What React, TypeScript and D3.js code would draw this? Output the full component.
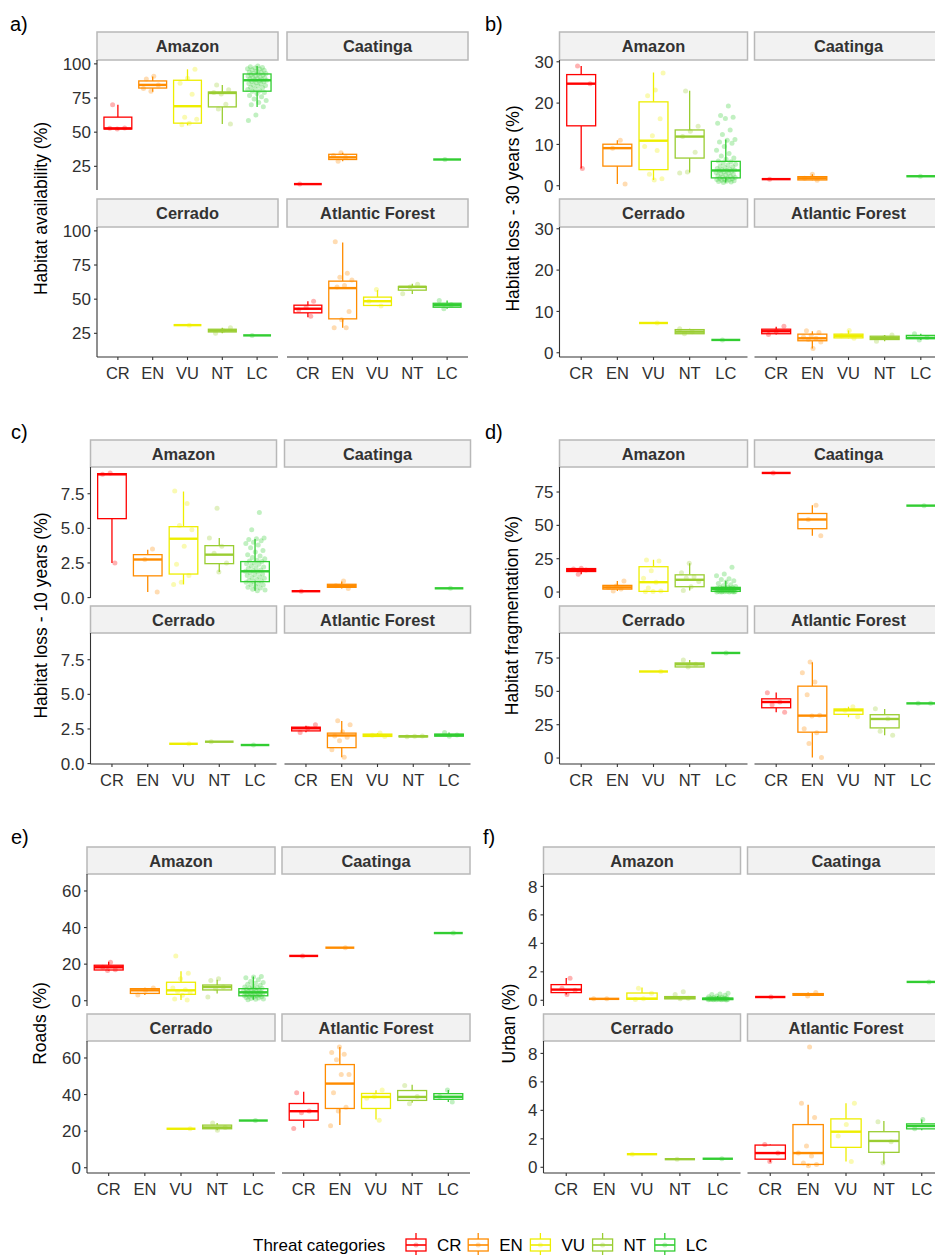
import React from 'react';
import * as d3 from 'd3';

// ---------- categories & palette ----------
const categories = ['CR', 'EN', 'VU', 'NT', 'LC'];
const catColors = ['#FF0000', '#FF8C00', '#EEEE00', '#9ACD32', '#32CD32'];
const biomes = ['Amazon', 'Caatinga', 'Cerrado', 'Atlantic Forest'];

type Stats = [number, number, number, number, number]; // lower whisker, q1, median, q3, upper whisker
type Group = { s: Stats; p: number[] } | null;
const grp = (s: Stats, p: number[]): Group => ({ s, p });
const one = (v: number): Group => ({ s: [v, v, v, v, v], p: [v] });

// ---------- a) Habitat availability (%) ----------
const availTicks = [25, 50, 75, 100];
const availTickLabels = ['25', '50', '75', '100'];
const availLcAmazon = [98.5, 97.8, 97.4, 96.9, 96.5, 96.2, 95.6, 95.3, 94.8, 94.1, 93.9, 93.2, 92.9, 92.6, 92.0, 91.8, 91.2, 91.0, 90.4, 90.1, 89.8, 89.2, 88.9, 88.6, 88.1, 88.0, 87.4, 87.1, 86.9, 86.2, 85.7, 85.5, 84.6, 84.1, 83.8, 82.9, 82.5, 81.6, 81.2, 80.4, 80.0, 79.1, 78.3, 76.8, 75.9, 74.2, 73.1, 71.8, 70.0, 68.6, 62.5, 58.6];
const availAmazon: Group[] = [
  grp([52, 52.3, 52.8, 61, 70], [70, 53, 52.3, 52.8]),
  grp([79.6, 82.3, 84.6, 87.5, 90.7], [91, 89, 84.6, 80, 82]),
  grp([55, 56.6, 69, 88, 96], [96, 89.5, 85.8, 77.7, 61, 59.5, 56.5, 55.5]),
  grp([56, 68.5, 78.7, 79.4, 84.5], [84.5, 81, 78, 79, 70.5, 67, 56]),
  grp([68.5, 80, 88, 92.6, 98.5], availLcAmazon),
];
const availCaatinga: Group[] = [one(12), grp([28.7, 30, 31.6, 33.8, 35], [35, 33, 31.6, 28.7]), null, null, one(30)];
const availCerrado: Group[] = [null, null, one(31), grp([25, 26, 27, 28, 29], [29, 27, 25]), one(23.5)];
const availAtlantic: Group[] = [
  grp([36.8, 40, 43, 45.6, 48.5], [48.5, 44, 42, 37.5]),
  grp([29, 35.6, 58.1, 63.2, 91.4], [92, 69, 66, 64, 60, 59, 41, 35, 29, 29]),
  grp([44.9, 45.4, 48.5, 51.5, 56.6], [57, 48.5, 45]),
  grp([53.7, 56.6, 59, 59.3, 61.3], [61, 59, 54]),
  grp([43, 44.1, 45.6, 47, 49], [49, 46, 43]),
];

// ---------- b) Habitat loss - 30 years (%) ----------
const loss30Ticks = [0, 10, 20, 30];
const loss30TickLabels = ['0', '10', '20', '30'];
const loss30LcAmazon = [19.3, 17.0, 16.6, 16.3, 15.1, 13.5, 12.4, 11.2, 11.0, 10.6, 10.3, 9.5, 8.6, 7.8, 7.2, 6.7, 6.4, 6.0, 5.8, 5.5, 5.2, 5.0, 4.8, 4.6, 4.4, 4.2, 4.0, 3.9, 3.8, 3.7, 3.6, 3.5, 3.3, 3.2, 3.0, 2.9, 2.7, 2.6, 2.4, 2.3, 2.1, 2.0, 1.9, 1.8, 1.7, 1.6, 1.5, 1.4, 1.3, 1.2, 1.1, 1.0, 0.9, 0.8];
const loss30Amazon: Group[] = [
  grp([4.2, 14.5, 24.7, 26.9, 29], [29, 24.7, 4.2]),
  grp([0.4, 4.75, 9.1, 10.05, 11], [11, 9.1, 0.4]),
  grp([1.4, 3.9, 10.9, 20.3, 27.4], [27.3, 23.2, 21.8, 16.2, 12.1, 9.5, 8.5, 2.8, 1.7, 1.4]),
  grp([3.2, 6.7, 11.9, 13.5, 23], [22.9, 14.4, 13.2, 11.9, 8.1, 3.3, 3.1]),
  grp([0.8, 1.9, 3.7, 5.9, 11.2], loss30LcAmazon),
];
const loss30Caatinga: Group[] = [one(1.6), grp([1.3, 1.4, 1.8, 2.2, 2.8], [2.8, 1.8, 1.3]), null, null, one(2.3)];
const loss30Cerrado: Group[] = [null, null, one(7.2), grp([4.6, 4.6, 5.1, 5.6, 5.8], [5.8, 5.1, 4.6]), one(3.1)];
const loss30Atlantic: Group[] = [
  grp([4.4, 4.6, 5.2, 5.7, 6.3], [6.4, 5.2, 4.4]),
  grp([1.0, 2.9, 3.5, 4.5, 5.2], [5.3, 4.9, 4.2, 3.8, 3.5, 3.2, 2.6, 1.0]),
  grp([3.5, 3.6, 4.1, 4.5, 5.4], [5.4, 4.1, 3.5]),
  grp([2.8, 3.2, 3.6, 4.0, 4.3], [4.3, 3.6, 2.8]),
  grp([3.1, 3.4, 3.6, 4.2, 4.6], [4.6, 3.7, 3.1]),
];

// ---------- c) Habitat loss - 10 years (%) ----------
const loss10Ticks = [0, 2.5, 5, 7.5];
const loss10TickLabels = ['0.0', '2.5', '5.0', '7.5'];
const loss10LcAmazon = [6.15, 4.9, 4.3, 4.25, 4.2, 4.1, 4.0, 3.9, 3.8, 3.6, 3.4, 3.3, 3.1, 3.0, 2.9, 2.8, 2.7, 2.65, 2.6, 2.5, 2.45, 2.4, 2.3, 2.2, 2.15, 2.1, 2.0, 1.95, 1.9, 1.85, 1.8, 1.7, 1.65, 1.6, 1.5, 1.45, 1.4, 1.3, 1.25, 1.2, 1.15, 1.1, 1.0, 0.95, 0.9, 0.8, 0.75, 0.7, 0.6, 0.55, 0.5];
const loss10Amazon: Group[] = [
  grp([2.5, 5.7, 8.9, 8.95, 9.0], [9.0, 8.9, 2.5]),
  grp([0.4, 1.57, 2.75, 3.1, 3.45], [3.5, 2.75, 0.4]),
  grp([0.95, 1.7, 4.25, 5.12, 7.66], [7.7, 6.8, 5.2, 4.9, 3.7, 2.4, 1.6, 1.1, 0.95]),
  grp([1.85, 2.45, 3.1, 3.75, 4.3], [6.45, 4.3, 3.7, 3.2, 2.5, 1.85]),
  grp([0.5, 1.15, 1.9, 2.6, 4.23], loss10LcAmazon),
];
const loss10Caatinga: Group[] = [one(0.46), grp([0.65, 0.74, 0.85, 0.96, 1.17], [1.2, 0.85, 0.65]), null, null, one(0.67)];
const loss10Cerrado: Group[] = [null, null, one(1.43), one(1.58), one(1.34)];
const loss10Atlantic: Group[] = [
  grp([2.26, 2.36, 2.55, 2.63, 2.74], [2.8, 2.55, 2.25]),
  grp([0.45, 1.15, 2.03, 2.2, 3.08], [3.1, 2.8, 2.3, 2.0, 1.9, 1.65, 1.0, 0.45]),
  grp([1.96, 1.96, 2.05, 2.13, 2.2], [2.2, 2.05, 1.95]),
  grp([1.93, 1.93, 1.97, 2.0, 2.0], [2.0, 1.97, 1.93]),
  grp([1.98, 1.98, 2.06, 2.13, 2.25], [2.25, 2.06, 1.98]),
];

// ---------- d) Habitat fragmentation (%) ----------
const fragTicks = [0, 25, 50, 75];
const fragTickLabels = ['0', '25', '50', '75'];
const fragLcAmazon = [18.5, 13.5, 12.2, 10.0, 9.4, 8.4, 7.5, 6.5, 5.5, 4.8, 4.2, 3.8, 3.5, 3.2, 3.0, 2.8, 2.6, 2.4, 2.2, 2.1, 2.0, 1.8, 1.6, 1.5, 1.3, 1.1, 1.0, 0.9, 0.8, 0.7, 0.6, 0.5, 0.4, 0.3, 0.3, 0.2, 0.1, 0.1, 0.0, 0.0];
const fragAmazon: Group[] = [
  grp([13.4, 15.4, 16.6, 17.6, 17.8], [17.8, 17.2, 16.5, 13.4]),
  grp([0.8, 2.2, 3.5, 5.0, 8.3], [8.3, 4.5, 3.5, 2.2, 0.8]),
  grp([0.3, 0.5, 7.4, 19, 24.2], [24, 23.2, 16, 10.3, 7.4, 3, 0.8, 0.5, 0.3]),
  grp([1.2, 4.0, 9.2, 12.9, 21.5], [21.5, 14.5, 11.5, 10.5, 8, 4, 1.2]),
  grp([0, 0.5, 2.2, 3.5, 8.4], fragLcAmazon),
];
const fragCaatinga: Group[] = [one(89.3), grp([42.3, 47.5, 54.4, 58.9, 65], [65, 54.4, 42.3]), null, null, one(64.8)];
const fragCerrado: Group[] = [null, null, one(64.9), grp([68.3, 68.3, 70.3, 71.3, 73.5], [73.5, 70.3, 68.3]), one(78.8)];
const fragAtlantic: Group[] = [
  grp([34.3, 37.7, 42, 44.4, 49.2], [49, 42, 40, 34.3]),
  grp([0.5, 19.4, 31.8, 53.9, 71.8], [72, 64, 57, 47.5, 32, 31.5, 22, 19, 11, 0.5]),
  grp([30.6, 32.8, 35.8, 36.8, 38.5], [38.5, 35.8, 31]),
  grp([17.1, 22.6, 29.3, 32.5, 36.8], [37, 29.5, 20, 17]),
  grp([41, 41, 41, 41, 41], [41, 41]),
];

// ---------- e) Roads (%) ----------
const roadTicks = [0, 20, 40, 60];
const roadTickLabels = ['0', '20', '40', '60'];
const roadLcAmazon = [13.3, 13.0, 12.5, 11.5, 10.5, 10.0, 9.5, 9.0, 8.5, 8.0, 7.5, 7.2, 7.0, 6.8, 6.6, 6.3, 6.0, 5.8, 5.5, 5.2, 5.0, 4.8, 4.6, 4.4, 4.2, 4.0, 3.8, 3.6, 3.4, 3.2, 3.0, 2.8, 2.7, 2.5, 2.2, 2.0, 1.8, 1.5, 1.2, 1.0, 0.8, 0.5];
const roadAmazon: Group[] = [
  grp([16.5, 16.8, 18.3, 19.4, 21.3], [21, 18.3, 17, 16.5]),
  grp([3.2, 4.0, 5.7, 6.6, 7.1], [7, 5.7, 3.2]),
  grp([0.4, 3.5, 5.7, 10.1, 16.1], [24.5, 15, 12, 7, 6, 5, 4.5, 3, 1, 0.4]),
  grp([4, 5.9, 7.5, 8.6, 11.5], [12, 11, 7.5, 6.5, 2]),
  grp([0.5, 2.7, 4.6, 6.6, 13.3], roadLcAmazon),
];
const roadCaatinga: Group[] = [one(24.5), one(29), null, null, one(37)];
const roadCerrado: Group[] = [null, null, one(21.3), grp([20.5, 21.3, 22, 23.3, 24.5], [24.5, 22, 20.5]), one(25.8)];
const roadAtlantic: Group[] = [
  grp([21.8, 26, 30.9, 35.1, 41.5], [41, 31, 30, 21.5]),
  grp([23.3, 32.4, 46, 56.4, 66], [66, 63, 62, 59, 51, 51, 41, 33, 31, 23]),
  grp([26.4, 32.4, 38.7, 40.6, 42.4], [42.5, 39, 38, 26]),
  grp([35.5, 36.8, 38.7, 42.2, 45.4], [45, 39, 35]),
  grp([36, 37.4, 38.8, 40.5, 42.5], [42.5, 39, 36]),
];

// ---------- f) Urban (%) ----------
const urbanTicks = [0, 2, 4, 6, 8];
const urbanTickLabels = ['0', '2', '4', '6', '8'];
const urbanLcAmazon = [0.5, 0.45, 0.4, 0.35, 0.3, 0.25, 0.22, 0.2, 0.18, 0.16, 0.15, 0.14, 0.13, 0.12, 0.11, 0.1, 0.1, 0.09, 0.08, 0.08, 0.07, 0.06, 0.06, 0.05, 0.05, 0.04, 0.04, 0.03, 0.03, 0.02];
const urbanAmazon: Group[] = [
  grp([0.4, 0.54, 0.75, 1.1, 1.57], [1.55, 0.85, 0.7, 0.4]),
  grp([0.1, 0.1, 0.1, 0.1, 0.1], [0.1, 0.1]),
  grp([0.05, 0.07, 0.12, 0.51, 0.9], [0.85, 0.5, 0.1, 0.05]),
  grp([0.07, 0.1, 0.17, 0.26, 0.3], [0.6, 0.4, 0.15, 0.1]),
  grp([0.03, 0.05, 0.1, 0.15, 0.3], urbanLcAmazon),
];
const urbanCaatinga: Group[] = [one(0.23), grp([0.3, 0.35, 0.4, 0.47, 0.55], [0.55, 0.3]), null, null, one(1.29)];
const urbanCerrado: Group[] = [null, null, one(0.92), one(0.57), one(0.6)];
const urbanAtlantic: Group[] = [
  grp([0.35, 0.57, 1.0, 1.56, 1.6], [1.6, 1.0, 0.4]),
  grp([0.1, 0.2, 1.0, 3.0, 4.4], [8.45, 4.5, 3.5, 1.5, 1.0, 0.8, 0.3, 0.2, 0.1]),
  grp([0.4, 1.4, 2.5, 3.4, 4.5], [4.5, 3.0, 2.2, 0.4]),
  grp([0.25, 1.05, 1.85, 2.5, 3.25], [3.2, 1.8, 0.3]),
  grp([2.6, 2.7, 2.9, 3.05, 3.35], [3.35, 2.7]),
];

// ---------- layout ----------
const FONT = '"Liberation Sans", Arial, Helvetica, sans-serif';

interface Layout {
  x0: number; pw: number; cg: number; stripTop: number; stripH: number;
  ph: number; rg: number; tagX: number; tagY: number; titleX: number;
}
interface Spec {
  tag: string; title: string; ticks: number[]; tickLabels: string[];
  groups: Group[][]; layout: Layout;
}

const specs: Spec[] = [
  { tag: 'a)', title: 'Habitat availability (%)', ticks: availTicks, tickLabels: availTickLabels,
    groups: [availAmazon, availCaatinga, availCerrado, availAtlantic],
    layout: { x0: 97, pw: 181, cg: 9, stripTop: 32, stripH: 28, ph: 130, rg: 9, tagX: 10, tagY: 31, titleX: 47 } },
  { tag: 'b)', title: 'Habitat loss - 30 years (%)', ticks: loss30Ticks, tickLabels: loss30TickLabels,
    groups: [loss30Amazon, loss30Caatinga, loss30Cerrado, loss30Atlantic],
    layout: { x0: 559.5, pw: 188, cg: 7, stripTop: 32, stripH: 28, ph: 130, rg: 9, tagX: 485, tagY: 31, titleX: 519 } },
  { tag: 'c)', title: 'Habitat loss - 10 years (%)', ticks: loss10Ticks, tickLabels: loss10TickLabels,
    groups: [loss10Amazon, loss10Caatinga, loss10Cerrado, loss10Atlantic],
    layout: { x0: 90.5, pw: 186, cg: 8, stripTop: 440, stripH: 27, ph: 131, rg: 8, tagX: 11, tagY: 439, titleX: 47 } },
  { tag: 'd)', title: 'Habitat fragmentation (%)', ticks: fragTicks, tickLabels: fragTickLabels,
    groups: [fragAmazon, fragCaatinga, fragCerrado, fragAtlantic],
    layout: { x0: 559.5, pw: 188, cg: 7, stripTop: 440, stripH: 27, ph: 131, rg: 8, tagX: 485, tagY: 439, titleX: 518 } },
  { tag: 'e)', title: 'Roads (%)', ticks: roadTicks, tickLabels: roadTickLabels,
    groups: [roadAmazon, roadCaatinga, roadCerrado, roadAtlantic],
    layout: { x0: 87, pw: 188, cg: 7, stripTop: 847, stripH: 27, ph: 132, rg: 8, tagX: 11, tagY: 844, titleX: 46 } },
  { tag: 'f)', title: 'Urban (%)', ticks: urbanTicks, tickLabels: urbanTickLabels,
    groups: [urbanAmazon, urbanCaatinga, urbanCerrado, urbanAtlantic],
    layout: { x0: 543.5, pw: 197, cg: 7, stripTop: 847, stripH: 27, ph: 132, rg: 8, tagX: 483, tagY: 844, titleX: 515 } },
];

// deterministic horizontal spread for the point layer
const spread = (i: number) => (((i * 0.6180339887 + 0.23) % 1) - 0.5) * 2;

function Facet({ name, groups, px, stripY, panelTop, L, yScale, left, bottom, ticks, tickLabels, seed }: any) {
  const x = d3.scalePoint<string>().domain(categories).range([px, px + L.pw]).padding(0.6);
  const step = x.step();
  const bw = step * 0.8;
  const pb = panelTop + L.ph;
  return (
    <g>
      <rect x={px} y={stripY} width={L.pw} height={L.stripH} fill="#F2F2F2" stroke="#B8B8B8" strokeWidth={1.5} />
      <text x={px + L.pw / 2} y={stripY + L.stripH / 2 + 6} textAnchor="middle" fontFamily={FONT}
        fontSize={16.4} fontWeight="bold" fill="#333">{name}</text>
      {groups.map((g: Group, ci: number) => {
        if (!g) return null;
        const cx = x(categories[ci])!;
        const c = catColors[ci];
        const [lo, q1, md, q3, hi] = g.s;
        return (
          <g key={ci}>
            <line x1={cx} x2={cx} y1={yScale(hi)} y2={yScale(q3)} stroke={c} strokeWidth={1.3} />
            <line x1={cx} x2={cx} y1={yScale(q1)} y2={yScale(lo)} stroke={c} strokeWidth={1.3} />
            <rect x={cx - bw / 2} y={yScale(q3)} width={bw} height={Math.max(0, yScale(q1) - yScale(q3))}
              fill="white" stroke={c} strokeWidth={1.3} />
            <line x1={cx - bw / 2} x2={cx + bw / 2} y1={yScale(md)} y2={yScale(md)} stroke={c} strokeWidth={2.4} />
          </g>
        );
      })}
      {groups.map((g: Group, ci: number) => {
        if (!g) return null;
        const cx = x(categories[ci])!;
        return g.p.map((v, i) => (
          <circle key={`${ci}-${i}`} cx={cx + spread(i + ci * 7 + seed) * step * 0.28} cy={yScale(v)} r={2.5}
            fill={catColors[ci]} fillOpacity={0.3} />
        ));
      })}
      {left && (
        <g>
          <line x1={px} x2={px} y1={panelTop} y2={pb} stroke="#333" strokeWidth={1.1} />
          {ticks.map((t: number, i: number) => (
            <g key={t}>
              <line x1={px - 3} x2={px} y1={yScale(t)} y2={yScale(t)} stroke="#333" strokeWidth={1.1} />
              <text x={px - 6} y={yScale(t)} dy="0.36em" textAnchor="end" fontFamily={FONT} fontSize={17} fill="#303030">
                {tickLabels[i]}
              </text>
            </g>
          ))}
        </g>
      )}
      {bottom && (
        <g>
          <line x1={px} x2={px + L.pw} y1={pb} y2={pb} stroke="#333" strokeWidth={1.1} />
          {categories.map((cat) => (
            <g key={cat}>
              <line x1={x(cat)} x2={x(cat)} y1={pb} y2={pb + 3} stroke="#333" strokeWidth={1.1} />
              <text x={x(cat)} y={pb + 22} textAnchor="middle" fontFamily={FONT} fontSize={16.5} fill="#303030">{cat}</text>
            </g>
          ))}
        </g>
      )}
    </g>
  );
}

function Plot({ spec, idx }: { spec: Spec; idx: number }) {
  const L = spec.layout;
  const vals: number[] = [];
  spec.groups.forEach((gs) => gs.forEach((g) => { if (g) vals.push(...g.s, ...g.p); }));
  const [mn, mx] = d3.extent(vals) as [number, number];
  const pad = (mx - mn) * 0.05;
  const domain = [mn - pad, mx + pad];
  const p1Top = L.stripTop + L.stripH;
  const strip2 = p1Top + L.ph + L.rg;
  const p2Top = strip2 + L.stripH;
  const titleY = (p1Top + p2Top + L.ph) / 2;
  return (
    <g>
      <text x={L.tagX} y={L.tagY} fontFamily={FONT} fontSize={20} fill="#000">{spec.tag}</text>
      <text transform={`translate(${L.titleX},${titleY}) rotate(-90)`} textAnchor="middle" fontFamily={FONT}
        fontSize={17.5} fill="#000">{spec.title}</text>
      {biomes.map((b, bi) => {
        const col = bi % 2;
        const row = Math.floor(bi / 2);
        const px = L.x0 + col * (L.pw + L.cg);
        const panelTop = row === 0 ? p1Top : p2Top;
        const yScale = d3.scaleLinear().domain(domain).range([panelTop + L.ph, panelTop]);
        return (
          <Facet key={b} name={b} groups={spec.groups[bi]} px={px} stripY={row === 0 ? L.stripTop : strip2}
            panelTop={panelTop} L={L} yScale={yScale} left={col === 0} bottom={row === 1}
            ticks={spec.ticks} tickLabels={spec.tickLabels} seed={idx * 5 + bi * 3} />
        );
      })}
    </g>
  );
}

function Legend() {
  const cy = 1245;
  return (
    <g>
      <text x={253} y={1251} fontFamily={FONT} fontSize={17} fill="#000">Threat categories</text>
      {categories.map((cat, i) => {
        const kx = 406 + i * 62.2;
        const c = catColors[i];
        return (
          <g key={cat}>
            <line x1={kx + 10} x2={kx + 10} y1={cy - 12} y2={cy + 12} stroke={c} strokeWidth={1.3} />
            <rect x={kx} y={cy - 6} width={20} height={12} fill="white" stroke={c} strokeWidth={1.3} />
            <line x1={kx} x2={kx + 20} y1={cy} y2={cy} stroke={c} strokeWidth={1.6} />
            <circle cx={kx + 10} cy={cy} r={2.5} fill={c} fillOpacity={0.3} />
            <text x={kx + 31} y={cy + 6} fontFamily={FONT} fontSize={17} fill="#000">{cat}</text>
          </g>
        );
      })}
    </g>
  );
}

export default function App() {
  return (
    <svg width={935} height={1255} style={{ position: 'absolute', left: 0, top: 0, background: 'white' }}>
      <rect width={935} height={1255} fill="white" />
      {specs.map((s, i) => <Plot key={s.tag} spec={s} idx={i} />)}
      <Legend />
    </svg>
  );
}
